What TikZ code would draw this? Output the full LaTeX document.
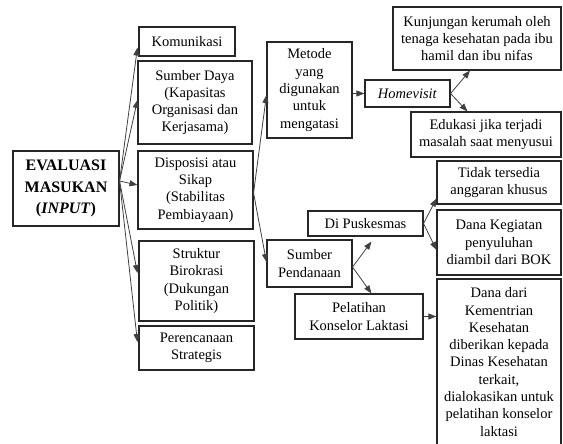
\documentclass[tikz,border=0pt]{standalone}
\usepackage{fontspec}
\setmainfont{Liberation Serif}
\usetikzlibrary{arrows.meta,calc}
\begin{document}
\begin{tikzpicture}[x=1pt,y=-1pt,
  box/.style={draw=black!85, line width=1.1pt, inner sep=0pt, align=center,
    font=\fontsize{14.5}{17.3}\selectfont},
  conn/.style={draw=black!75, line width=0.8pt, -{Triangle[length=8pt,width=6pt]}}]
\useasboundingbox (0,0) rectangle (563,444);

% root
\node[box, minimum width=106pt, minimum height=75pt,
  font=\fontsize{16}{21.7}\selectfont\bfseries] (eval) at (66,188.5)
  {EVALUASI\\MASUKAN\\(\textit{INPUT})};

% first level
\node[box, minimum width=96pt, minimum height=29pt] (kom) at (187,41.5) {Komunikasi};
\node[box, minimum width=114pt, minimum height=83pt] (sd) at (195,102.5)
  {Sumber Daya\\(Kapasitas\\Organisasi dan\\Kerjasama)};
\node[box, minimum width=115pt, minimum height=78pt] (disp) at (195.5,190)
  {Disposisi atau\\Sikap\\(Stabilitas\\Pembiayaan)};
\node[box, minimum width=115pt, minimum height=80pt] (struk) at (196.5,281)
  {Struktur\\Birokrasi\\(Dukungan\\Politik)};
\node[box, minimum width=115pt, minimum height=44pt] (renc) at (196.5,348)
  {Perencanaan\\Strategis};

% second level
\node[box, minimum width=85pt, minimum height=96pt] (metode) at (309.5,90)
  {Metode\\yang\\digunakan\\untuk\\mengatasi};
\node[box, minimum width=85pt, minimum height=47pt] (sumber) at (309.5,263.5)
  {Sumber\\Pendanaan};

% third level
\node[box, minimum width=85pt, minimum height=27pt] (home) at (407.5,93.5) {\textit{Homevisit}};
\node[box, minimum width=115pt, minimum height=25pt] (dipus) at (365.5,223.5) {Di Puskesmas};
\node[box, minimum width=128pt, minimum height=45pt] (pelat) at (359,316.5)
  {Pelatihan\\Konselor Laktasi};

% leaves
\node[box, minimum width=168pt, minimum height=63pt] (kunj) at (477,38.5)
  {Kunjungan kerumah oleh\\tenaga kesehatan pada ibu\\hamil dan ibu nifas};
\node[box, minimum width=150pt, minimum height=45pt] (edu) at (486,134.5)
  {Edukasi jika terjadi\\masalah saat menyusui};
\node[box, minimum width=124pt, minimum height=43pt] (tidak) at (499,182.5)
  {Tidak tersedia\\anggaran khusus};
\node[box, minimum width=124pt, minimum height=65pt] (danakeg) at (499,242.5)
  {Dana Kegiatan\\penyuluhan\\diambil dari BOK};
\node[box, minimum width=124pt, minimum height=166pt] (danadari) at (499,362)
  {Dana dari\\Kementrian\\Kesehatan\\diberikan kepada\\Dinas Kesehatan\\terkait,\\dialokasikan untuk\\pelatihan konselor\\laktasi};

% connectors from the root
\coordinate (evout) at ($(eval.east)+(0,-7.5)$);
\draw[conn] (evout) -- ($(kom.south west)+(-1,-9)$);
\draw[conn] (evout) -- ($(sd.west)+(0,-2.5)$);
\draw[conn] (evout) -- ($(disp.west)+(0,-5)$);
\draw[conn] (evout) -- ($(struk.west)+(-1,-8)$);
\draw[conn] (evout) -- ($(renc.west)+(-1,-6)$);

% connectors from Disposisi
\coordinate (dispout) at ($(disp.east)+(0,3)$);
\draw[conn] (dispout) -- ($(metode.west)+(0,5)$);
\draw[conn] (dispout) -- ($(sumber.west)+(0,-1.5)$);

% method branch
\draw[conn] (metode.east |- home.west) -- (home.west);
\draw[conn] (home.east) -- ($(kunj.south)+(-7,0)$);
\draw[conn] (home.east) -- ($(edu.north west)+(57,0)$);

% funding branch
\coordinate (sumout) at ($(sumber.east)+(0,3.5)$);
\draw[conn] (sumout) -- ($(dipus.south west)+(64,5)$);
\draw[conn] (sumout) -- ($(pelat.north west)+(77,0)$);
\draw[conn] (dipus.east) -- ($(tidak.south west)+(0,-6)$);
\draw[conn] (dipus.east) -- ($(danakeg.west)+(0,7.5)$);
\draw[conn] (pelat.east) -- (pelat.east -| danadari.west);
\end{tikzpicture}
\end{document}
